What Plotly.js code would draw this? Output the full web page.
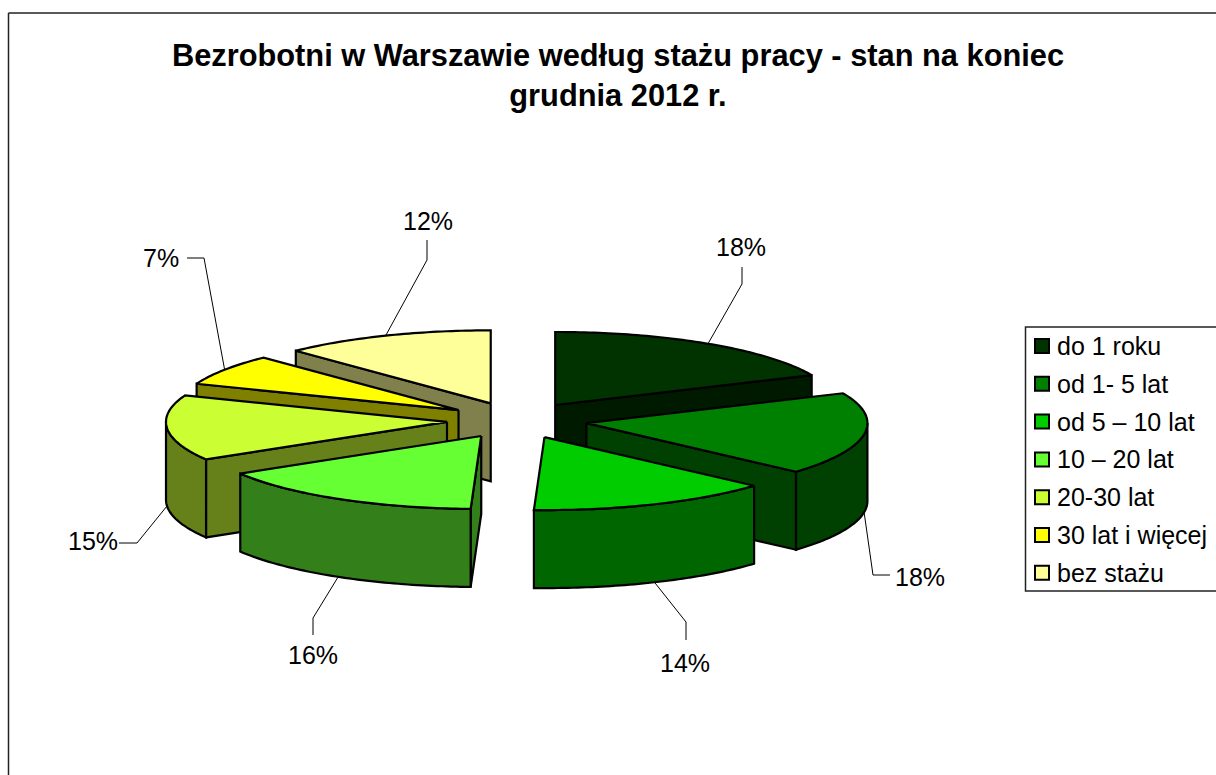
<!DOCTYPE html>
<html><head><meta charset="utf-8">
<script src="https://cdn.plot.ly/plotly-3.0.1.min.js"></script>
<style>html,body{margin:0;padding:0;background:#fff}#c{width:1216px;height:775px}</style>
</head><body><div id="c"></div>
<script>
// ---- data ----
const categories = ['do 1 roku','od 1- 5 lat','od 5 – 10 lat','10 – 20 lat','20-30 lat','30 lat i więcej','bez stażu'];
const shares = [18.3,18.3,14.0,15.8,14.5,6.9,12.2];
const labels = ['18%','18%','14%','16%','15%','7%','12%'];
const topColors = ['#003300','#008000','#00CC00','#66FF33','#CCFF33','#FFFF00','#FFFF99'];
const wallColors = ['#001A00','#004000','#006600','#33801A','#66801A','#808000','#80804D'];

// ---- 3D pie projection (pixels of the 1216x775 page) ----
const CX=517, CY=420.3, RX=281, RY=73, DEPTH=78, EXPLODE=0.25;
const paintOrder=[0,6,5,4,1,3,2];
// where each leader bends and where its label sits
const elbows=[[742,284],[873,575],[686,622],[313,618],[137,543],[204,258],[427,260]];
const leaderEnds=[[742,267],[890,575],[686,640],[313,635],[119,543],[187,258],[427,240]];
const labelPos=[[741,247],[920,577],[685,663],[313,655],[93,541],[161,258],[428,221]];
// legend box placement
const LEG={left:1025.5,top:327,bottom:591,swatchX:1042,textX:1055,firstY:346,step:37.8};

const rad=d=>d*Math.PI/180;
const total=shares.reduce((a,b)=>a+b,0);
let acc=0;
const slices=shares.map(v=>{const t1=acc/total*360;acc+=v;const t2=acc/total*360;const m=(t1+t2)/2;
  return {t1,t2,m,ax:CX+RX*EXPLODE*Math.sin(rad(m)),ay:CY-RY*EXPLODE*Math.cos(rad(m))};});
const rimX=(s,t)=>s.ax+RX*Math.sin(rad(t));
const rimY=(s,t)=>s.ay-RY*Math.cos(rad(t));
function range(a,b){const o=[];const n=Math.max(2,Math.ceil(Math.abs(b-a)));for(let i=0;i<=n;i++)o.push(a+(b-a)*i/n);return o;}
function poly(xs,ys,fill,name){return {type:'scatter',mode:'lines',x:xs.concat(xs[0]),y:ys.concat(ys[0]),fill:'toself',fillcolor:fill,
  line:{color:'#000',width:2.2,simplify:false},showlegend:false,hoverinfo:'skip',name};}

const traces=[];
// leaders
slices.forEach((s,i)=>{
  const front=Math.cos(rad(s.m))<0;
  const sx=rimX(s,s.m), sy=rimY(s,s.m)+(front?DEPTH:0);
  traces.push({type:'scatter',mode:'lines',x:[sx,elbows[i][0],leaderEnds[i][0]],y:[sy,elbows[i][1],leaderEnds[i][1]],
    line:{color:'#000',width:1},showlegend:false,hoverinfo:'skip'});
});
// slices, back to front
paintOrder.forEach(i=>{
  const s=slices[i];
  [[s.t1,Math.sin(rad(s.t1))<-1e-6],[s.t2,Math.sin(rad(s.t2))>1e-6]].forEach(([t,vis])=>{
    if(!vis)return;
    const x=rimX(s,t),y=rimY(s,t);
    traces.push(poly([s.ax,x,x,s.ax],[s.ay,y,y+DEPTH,s.ay+DEPTH],wallColors[i],categories[i]));
  });
  const a=Math.max(s.t1,90), b=Math.min(s.t2,270);
  if(b>a){
    const ts=range(a,b);
    const xs=ts.map(t=>rimX(s,t)), ysT=ts.map(t=>rimY(s,t));
    traces.push(poly(xs.concat(xs.slice().reverse()),ysT.concat(ysT.map(y=>y+DEPTH).reverse()),wallColors[i],categories[i]));
  }
  const ts=range(s.t1,s.t2);
  traces.push(poly([s.ax].concat(ts.map(t=>rimX(s,t))),[s.ay].concat(ts.map(t=>rimY(s,t))),topColors[i],categories[i]));
});
// legend swatches
categories.forEach((c,i)=>traces.push({type:'scatter',mode:'markers',x:[LEG.swatchX],y:[LEG.firstY+LEG.step*i],name:c,showlegend:false,
  marker:{symbol:'square',size:14,color:topColors[i],line:{color:'#000',width:2}},hoverinfo:'skip'}));

const layout={
  width:1216,height:775,margin:{l:0,r:0,t:0,b:0,autoexpand:false},
  paper_bgcolor:'#fff',plot_bgcolor:'#fff',
  font:{family:'Liberation Sans, Arial, sans-serif',color:'#000'},
  title:{text:'Bezrobotni w Warszawie według stażu pracy - stan na koniec<br>grudnia 2012 r.',
    font:{size:30.8,family:'Liberation Sans, Arial, sans-serif',weight:'bold',color:'#000'},
    x:618/1216,xanchor:'center',y:1-66/775,yanchor:'top'},
  xaxis:{visible:false,range:[0,1216],fixedrange:true},
  yaxis:{visible:false,range:[775,0],fixedrange:true},
  showlegend:false,
  shapes:[
    {type:'line',xref:'x',yref:'y',x0:8.5,x1:8.5,y0:13,y1:775,line:{color:'#222',width:1.5}},
    {type:'line',xref:'x',yref:'y',x0:8.5,x1:1216,y0:13,y1:13,line:{color:'#222',width:1.5}},
    {type:'rect',xref:'x',yref:'y',x0:LEG.left,x1:1240,y0:LEG.top,y1:LEG.bottom,fillcolor:'#fff',layer:'below',line:{color:'#222',width:1.5}}
  ],
  annotations:labels.map((t,i)=>({text:t,xref:'x',yref:'y',x:labelPos[i][0],y:labelPos[i][1],showarrow:false,
    xanchor:'center',yanchor:'middle',font:{size:25,color:'#000'}})).concat(
    categories.map((c,i)=>({text:c,xref:'x',yref:'y',x:LEG.textX,y:LEG.firstY+LEG.step*i,showarrow:false,
    xanchor:'left',yanchor:'middle',font:{size:25,color:'#000'}})))
};
Plotly.newPlot('c',traces,layout,{displayModeBar:false,staticPlot:true});
</script></body></html>
